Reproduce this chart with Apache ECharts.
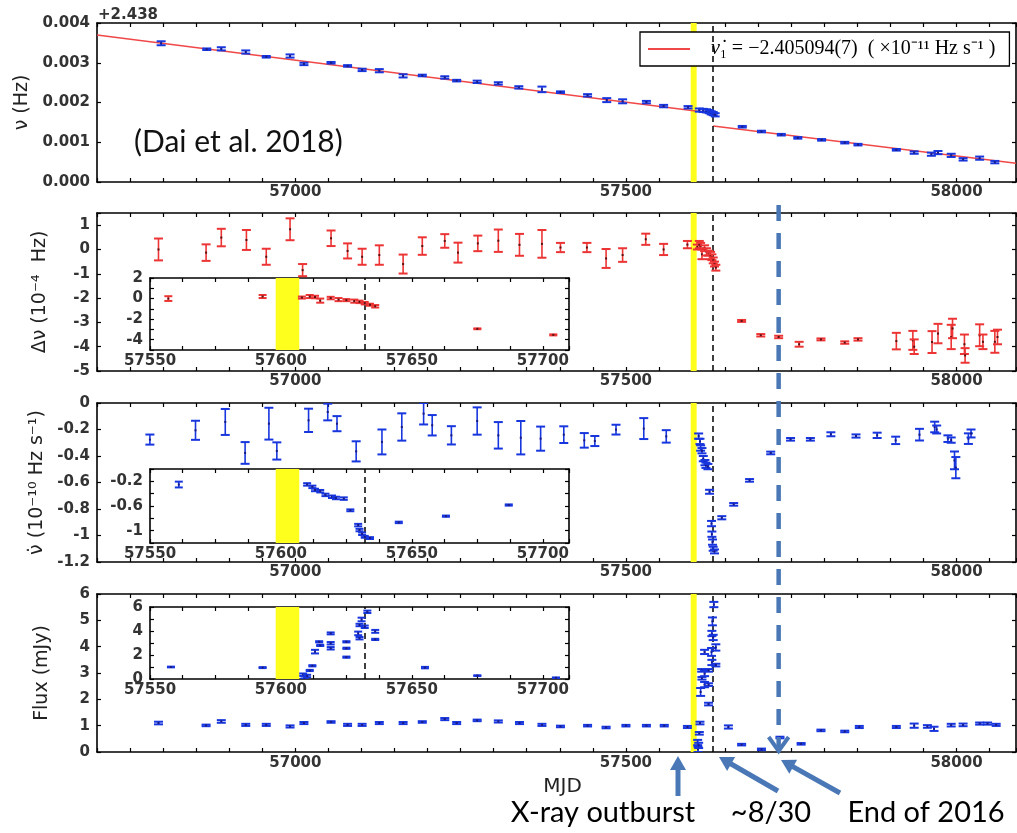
<!DOCTYPE html>
<html><head><meta charset="utf-8">
<script src="https://cdn.jsdelivr.net/npm/echarts@6/dist/echarts.min.js"></script>
<style>html,body{margin:0;padding:0;background:#fff}#c{width:1017px;height:833px}</style>
</head><body><div id="c"></div>
<script>
// ---------------- DATA ----------------
// Panel 1: spin frequency nu - 2.438 Hz
const nuMJD = [56797,56866,56888,56925,56956,56992,57013,57054,57079,57101,57127,57163,57192,57226,57244,57275,57307,57338,57373,57401,57442,57471,57495,57531,57557,57594,57611,57617,57622,57626,57629,57632,57635,57676,57705,57735,57760,57796,57831,57851,57909,57936,57962,57972,57992,58010,58035,58058];
const nuVal = [0.00349,0.00334,0.00335,0.00327,0.00315,0.00317,0.00297,0.00300,0.00292,0.00282,0.00280,0.00267,0.00268,0.00263,0.00255,0.00252,0.00248,0.00238,0.00233,0.00226,0.00218,0.00206,0.00203,0.00201,0.00191,0.00188,0.00181,0.00180,0.00179,0.00177,0.00174,0.00172,0.00169,0.00139,0.00127,0.00119,0.00111,0.00106,0.00099,0.00094,0.00081,0.00074,0.00070,0.00074,0.00067,0.00057,0.00060,0.00050];
const nuErr = [0.00005,0.00002,0.00004,0.00004,0.00002,0.00004,0.00003,0.00002,0.00002,0.00003,0.00004,0.00004,0.00002,0.00003,0.00002,0.00003,0.00003,0.00003,0.00007,0.00002,0.00003,0.00005,0.00005,0.00003,0.00003,0.00003,0.00004,0.00004,0.00004,0.00004,0.00004,0.00004,0.00004,0.00002,0.00002,0.00002,0.00002,0.00002,0.00002,0.00002,0.00002,0.00003,0.00004,0.00004,0.00004,0.00003,0.00004,0.00003];
// timing fit lines (pre / post glitch)
const fitPre = [[56700,0.00370],[57632,0.00173]];
const fitPost = [[57632,0.00141],[58090,0.00047]];

// Panel 2: frequency residual (1e-4 Hz)
const dnuMJD = [56793,56865,56888,56926,56956,56992,57011,57054,57079,57101,57127,57163,57192,57226,57246,57276,57307,57339,57373,57401,57441,57470,57495,57530,57557,57593,57608,57611,57613,57615,57619,57622,57625,57628,57630,57632,57634,57636,57675,57704,57731,57762,57795,57831,57851,57909,57934,57936,57963,57972,57992,57994,58012,58013,58035,58040,58058,58062];
const dnuVal = [0.0,-0.13,0.49,0.39,-0.30,0.83,-0.85,0.46,-0.06,-0.30,-0.23,-0.60,0.14,0.35,-0.13,0.25,0.36,0.19,0.23,0.08,0.08,-0.37,-0.23,0.42,0.0,0.2,0.1,0.2,0.15,-0.2,0.05,-0.1,-0.15,-0.25,-0.32,-0.45,-0.6,-0.75,-2.94,-3.53,-3.6,-3.9,-3.7,-3.83,-3.7,-3.77,-3.74,-4.0,-3.81,-3.46,-3.6,-3.25,-3.9,-4.36,-3.53,-3.8,-3.8,-3.6];
const dnuErr = [0.45,0.34,0.36,0.41,0.33,0.45,0.25,0.32,0.31,0.33,0.40,0.39,0.36,0.28,0.41,0.32,0.46,0.45,0.57,0.19,0.19,0.39,0.28,0.23,0.23,0.15,0.10,0.15,0.12,0.20,0.12,0.15,0.10,0.15,0.12,0.12,0.10,0.12,0.04,0.05,0.05,0.10,0.04,0.05,0.05,0.34,0.39,0.30,0.45,0.40,0.50,0.40,0.40,0.30,0.45,0.30,0.45,0.30];

// Panel 3: spin-down rate (1e-10 Hz/s)
const nudotMJD = [56780,56849,56894,56924,56960,56972,57020,57049,57063,57092,57131,57161,57194,57207,57236,57275,57307,57341,57371,57406,57437,57453,57485,57527,57561,57610,57612,57613,57615,57617,57619.5,57621,57624,57626.5,57629.5,57630,57631,57632,57634,57645,57663,57687,57719,57749,57779,57810,57848,57880,57908,57944,57967,57970,57987,57992,57997,57999,58018,58022];
const nudotVal = [-0.276,-0.206,-0.143,-0.377,-0.156,-0.362,-0.131,-0.068,-0.156,-0.365,-0.294,-0.181,-0.080,-0.168,-0.244,-0.136,-0.244,-0.262,-0.269,-0.239,-0.282,-0.287,-0.201,-0.193,-0.252,-0.25,-0.29,-0.34,-0.36,-0.42,-0.45,-0.47,-0.48,-0.67,-0.91,-0.99,-1.05,-1.10,-1.12,-0.866,-0.765,-0.584,-0.377,-0.274,-0.274,-0.236,-0.249,-0.244,-0.282,-0.239,-0.181,-0.20,-0.269,-0.28,-0.433,-0.488,-0.269,-0.23];
const nudotErr = [0.038,0.072,0.098,0.082,0.12,0.065,0.088,0.063,0.057,0.076,0.094,0.103,0.082,0.077,0.069,0.103,0.1,0.126,0.091,0.063,0.055,0.038,0.037,0.079,0.047,0.02,0.02,0.02,0.02,0.02,0.02,0.02,0.02,0.015,0.02,0.02,0.02,0.015,0.015,0.012,0.01,0.01,0.01,0.01,0.01,0.015,0.012,0.02,0.028,0.044,0.04,0.03,0.025,0.02,0.067,0.08,0.04,0.03];

// Panel 4: radio flux density (mJy)
const fluxMJD = [56793,56865,56888,56925,56956,56992,57013,57054,57079,57101,57127,57163,57192,57226,57244,57275,57307,57339,57373,57401,57442,57470,57500,57531,57558,57593,57608.5,57609,57610,57611,57612,57613,57614.6,57615,57619,57619,57619,57625,57625,57625,57629.5,57630,57630,57630.8,57632,57633,57636,57636,57655,57675,57705,57733,57765,57795,57831,57853,57909,57936,57956,57966,57992,58010,58035,58047,58060];
const fluxVal = [1.10,1.01,1.16,1.03,1.03,0.97,1.10,1.14,1.03,1.03,1.10,1.10,1.14,1.25,1.10,1.20,1.16,1.10,1.03,0.97,1.00,0.93,1.00,1.00,1.00,0.95,0.36,0.10,0.25,0.71,1.10,2.28,3.10,2.80,3.80,2.98,2.56,3.10,2.56,1.82,3.80,3.40,4.50,4.96,4.35,5.60,3.97,3.30,0.95,0.28,0.10,0.55,0.31,0.82,0.78,0.95,0.95,1.00,0.97,0.88,1.02,1.03,1.08,1.08,1.03];
const fluxErr = [0.05,0.03,0.05,0.04,0.04,0.04,0.04,0.03,0.04,0.04,0.04,0.04,0.03,0.04,0.04,0.03,0.04,0.04,0.04,0.03,0.03,0.03,0.03,0.03,0.03,0.04,0.10,0.10,0.10,0.05,0.05,0.15,0.05,0.05,0.08,0.10,0.10,0.05,0.05,0.05,0.15,0.10,0.10,0.15,0.10,0.10,0.12,0.05,0.06,0.03,0.03,0.03,0.03,0.03,0.03,0.04,0.04,0.08,0.05,0.08,0.05,0.05,0.04,0.04,0.04];

// event markers
const outburstBand = [57598, 57607];
const glitchMJD = 57632;
const endOf2016MJD = 57731;

// tick labels
const mainXLabels = [57000, 57500, 58000];
const insetXLabels = [57550, 57600, 57650, 57700];
const nuLabels = [0, 0.001, 0.002, 0.003, 0.004];
const dnuLabels = [-5, -4, -3, -2, -1, 0, 1];
const nudotLabels = [-1.2, -1, -0.8, -0.6, -0.4, -0.2, 0];
const fluxLabels = [0, 1, 2, 3, 4, 5, 6];
const dnuInsetLabels = [-4, -2, 0, 2];
const nudotInsetLabels = [-1, -0.6, -0.2];
const fluxInsetLabels = [0, 2, 4, 6];

// ---------------- CHART ----------------
const chart = echarts.init(document.getElementById('c'));
const FONT = 'DejaVu Sans';
const BLUE = '#1736de', RED = '#ec3434';
const zip = (xs, ys, es) => xs.map((x, i) => [x, ys[i], es[i] != null ? es[i] : 0]);
const inList = (list, v) => list.some(l => Math.abs(l - v) < 1e-7);
const fmtNum = v => String(+v.toFixed(3));

const grids = [
  {left: 97, top: 23, width: 919, height: 159},
  {left: 97, top: 213, width: 919, height: 158},
  {left: 97, top: 403, width: 919, height: 159},
  {left: 97, top: 594, width: 919, height: 158},
  {left: 150, top: 278, width: 419, height: 72, show: true, backgroundColor: '#fff', borderWidth: 0},
  {left: 150, top: 469, width: 419, height: 74, show: true, backgroundColor: '#fff', borderWidth: 0},
  {left: 150, top: 607, width: 419, height: 72, show: true, backgroundColor: '#fff', borderWidth: 0}
].map(g => Object.assign({outerBoundsMode: 'none', containLabel: false}, g));

const lineStyle = {color: '#000', width: 1.6};
const labelStyle = {fontFamily: FONT, fontSize: 15, fontWeight: 'bold', color: '#333'};

function xPair(gi, min, max, interval, labels, margin, extra) {
  const base = {type: 'value', gridIndex: gi, min, max, interval, splitLine: {show: false},
    axisLine: {show: true, onZero: false, lineStyle},
    axisTick: {show: true, inside: true, length: 4, lineStyle: {color: '#000', width: 1.2}}};
  const bottom = Object.assign({}, base, {position: 'bottom',
    axisLabel: Object.assign({show: true, margin, formatter: v => inList(labels, v) ? String(Math.round(v)) : ''}, labelStyle)}, extra || {});
  const top = Object.assign({}, base, {position: 'top', axisLabel: {show: false}});
  return [bottom, top];
}
function yPair(gi, min, max, interval, labels, fmt, extra) {
  const base = {type: 'value', gridIndex: gi, min, max, interval, splitLine: {show: false},
    axisLine: {show: true, onZero: false, lineStyle},
    axisTick: {show: true, inside: true, length: 4, lineStyle: {color: '#000', width: 1.2}}};
  const left = Object.assign({}, base, {position: 'left',
    axisLabel: Object.assign({show: true, margin: 7, formatter: v => inList(labels, v) ? fmt(v) : ''}, labelStyle)}, extra || {});
  const right = Object.assign({}, base, {position: 'right', axisLabel: {show: false}});
  return [left, right];
}
const titleStyle = {fontFamily: FONT, fontSize: 19, color: '#222'};
const yName = (name, gap) => ({name, nameLocation: 'middle', nameGap: gap, nameTextStyle: titleStyle});

const xAxis = [].concat(
  xPair(0, 56700, 58090, 50, mainXLabels, 3),
  xPair(1, 56700, 58090, 50, mainXLabels, 3),
  xPair(2, 56700, 58090, 50, mainXLabels, 3),
  xPair(3, 56700, 58090, 50, mainXLabels, 4, {name: 'MJD', nameLocation: 'middle', nameGap: 25,
    nameTextStyle: {fontFamily: FONT, fontSize: 20, color: '#222', padding: [0, 0, 0, 12]}}),
  xPair(4, 57550, 57710, 12.5, insetXLabels, 4),
  xPair(5, 57550, 57710, 12.5, insetXLabels, 4),
  xPair(6, 57550, 57710, 12.5, insetXLabels, 4)
);
const yAxis = [].concat(
  yPair(0, 0, 0.004, 0.001, nuLabels, v => v.toFixed(3), yName('ν (Hz)', 44)),
  yPair(1, -5, 1.5, 1, dnuLabels, fmtNum, yName('Δν (10⁻⁴  Hz)', 47)),
  yPair(2, -1.2, 0, 0.2, nudotLabels, fmtNum, yName('ν̇ (10⁻¹⁰ Hz s⁻¹)', 44)),
  yPair(3, 0, 6, 1, fluxLabels, fmtNum, yName('Flux (mJy)', 45)),
  yPair(4, -5, 2, 1, dnuInsetLabels, fmtNum),
  yPair(5, -1.2, 0, 0.2, nudotInsetLabels, fmtNum),
  yPair(6, 0, 6, 1, fluxInsetLabels, fmtNum)
);

function errRender(color, dot, capW, lw) {
  return function (params, api) {
    const cs = params.coordSys;
    const x = api.value(0), y = api.value(1), e = api.value(2);
    const c = api.coord([x, y]);
    if (c[0] < cs.x - 0.5 || c[0] > cs.x + cs.width + 0.5) return null;
    const top = cs.y, bottom = cs.y + cs.height;
    if (c[1] < top - 1 || c[1] > bottom + 1) return null;
    let t = Math.max(api.coord([x, y + e])[1], top);
    let b = Math.min(api.coord([x, y - e])[1], bottom);
    const h = capW / 2, X = c[0];
    const ls = {stroke: color, lineWidth: lw};
    return {type: 'group', children: [
      {type: 'line', shape: {x1: X, y1: t, x2: X, y2: b}, style: ls},
      {type: 'line', shape: {x1: X - h, y1: t, x2: X + h, y2: t}, style: {stroke: color, lineWidth: lw + 0.4}},
      {type: 'line', shape: {x1: X - h, y1: b, x2: X + h, y2: b}, style: {stroke: color, lineWidth: lw + 0.4}},
      {type: 'rect', shape: {x: X - 1, y: c[1] - 1, width: 2, height: 2}, style: {fill: dot}}
    ]};
  };
}
function errSeries(gi, data, color, dot, capW) {
  return {type: 'custom', xAxisIndex: 2 * gi, yAxisIndex: 2 * gi, data, z: 5, clip: true, silent: true,
    renderItem: errRender(color, dot, capW, 1.6)};
}
function eventSeries(gi) {
  return {type: 'line', xAxisIndex: 2 * gi, yAxisIndex: 2 * gi, data: [], z: 1, silent: true,
    markArea: {silent: true, itemStyle: {color: '#ffff1e', opacity: 1},
      data: [[{xAxis: outburstBand[0]}, {xAxis: outburstBand[1]}]]},
    markLine: {silent: true, symbol: ['none', 'none'], label: {show: false},
      lineStyle: {color: '#000', type: [6, 4], width: 1.5}, data: [{xAxis: glitchMJD}]}};
}

const nuData = zip(nuMJD, nuVal, nuErr);
const dnuData = zip(dnuMJD, dnuVal, dnuErr);
const nudotData = zip(nudotMJD, nudotVal, nudotErr);
const fluxData = zip(fluxMJD, fluxVal, fluxErr);

const series = [];
for (let gi = 0; gi < 7; gi++) series.push(eventSeries(gi));
series.push(
  {name: 'fit', type: 'line', xAxisIndex: 0, yAxisIndex: 0, data: fitPre, showSymbol: false, symbol: 'none',
    lineStyle: {color: '#f04848', width: 1.5}, itemStyle: {color: '#f04848'}, z: 4, silent: true},
  {name: 'fit2', type: 'line', xAxisIndex: 0, yAxisIndex: 0, data: fitPost, showSymbol: false, symbol: 'none',
    lineStyle: {color: '#f04848', width: 1.5}, itemStyle: {color: '#f04848'}, z: 4, silent: true},
  errSeries(0, nuData, BLUE, '#1a1a80', 9),
  errSeries(1, dnuData, RED, '#5a1010', 9),
  errSeries(2, nudotData, BLUE, '#1a1a80', 9),
  errSeries(3, fluxData, BLUE, '#1a1a80', 9),
  errSeries(4, dnuData, RED, '#5a1010', 8),
  errSeries(5, nudotData, BLUE, '#1a1a80', 8),
  errSeries(6, fluxData, BLUE, '#1a1a80', 8)
);

const option = {
  backgroundColor: '#fff',
  animation: false,
  grid: grids,
  xAxis, yAxis, series,
  legend: {
    data: ['fit'], left: 640, top: 32, padding: [7, 14, 7, 8], itemWidth: 42, itemHeight: 2,
    icon: 'rect', selectedMode: false, borderColor: '#000', borderWidth: 1.3, backgroundColor: '#fff',
    formatter: () => '{i|ν̇}{t|₁ = −2.405094(7)  ( ×10⁻¹¹ Hz s⁻¹ )}',
    textStyle: {fontFamily: 'Liberation Serif', fontSize: 20, color: '#000', padding: [0, 0, 0, 16],
      rich: {i: {fontFamily: 'Liberation Serif', fontSize: 20, fontStyle: 'italic', color: '#000'},
             t: {fontFamily: 'Liberation Serif', fontSize: 20, color: '#000'}}}
  }
};
chart.setOption(option);

// ---------------- ANNOTATIONS ----------------
const ANN = '#4a78b6';
function arrow(x1, y1, x2, y2) {
  const dx = x2 - x1, dy = y2 - y1, L = Math.hypot(dx, dy), ux = dx / L, uy = dy / L;
  const hl = 14, hw = 8;
  const bx = x2 - ux * hl, by = y2 - uy * hl;
  return [
    {type: 'line', shape: {x1, y1, x2: bx + ux * 2, y2: by + uy * 2}, style: {stroke: ANN, lineWidth: 5}, z: 100},
    {type: 'polygon', shape: {points: [[x2, y2], [bx - uy * hw, by + ux * hw], [bx + uy * hw, by - ux * hw]]},
      style: {fill: ANN}, z: 100}
  ];
}
const xEnd = chart.convertToPixel({xAxisIndex: 0}, endOf2016MJD);
const annText = (text, x, y, size) => ({type: 'text', x, y, z: 100,
  style: {text, fill: '#000', font: size + 'px Lato', textAlign: 'center', textVerticalAlign: 'middle'}});
const graphic = [].concat(
  [{type: 'text', x: 98, y: 15, z: 100, style: {text: '+2.438', fill: '#333', font: 'bold 15px "DejaVu Sans"', textVerticalAlign: 'middle'}},
   {type: 'text', x: 134, y: 142, z: 100, style: {text: '(Dai et al. 2018)', fill: '#111', font: '30px Lato', textVerticalAlign: 'middle'}},
   {type: 'line', shape: {x1: xEnd, y1: 205, x2: xEnd, y2: 748}, style: {stroke: ANN, lineWidth: 4.5, lineDash: [16, 12]}, z: 100},
   {type: 'polyline', shape: {points: [[xEnd - 10, 737], [xEnd, 751], [xEnd + 10, 737]]}, style: {stroke: ANN, lineWidth: 4, fill: null}, z: 100}],
  arrow(678, 796, 678, 756),
  arrow(778, 791, 719, 757),
  arrow(840, 793, 781, 760),
  [annText('X-ray outburst', 603, 813, 29), annText('~8/30', 771, 813, 29), annText('End of 2016', 926, 813, 29)]
);
chart.setOption({graphic});
</script>
</body></html>
